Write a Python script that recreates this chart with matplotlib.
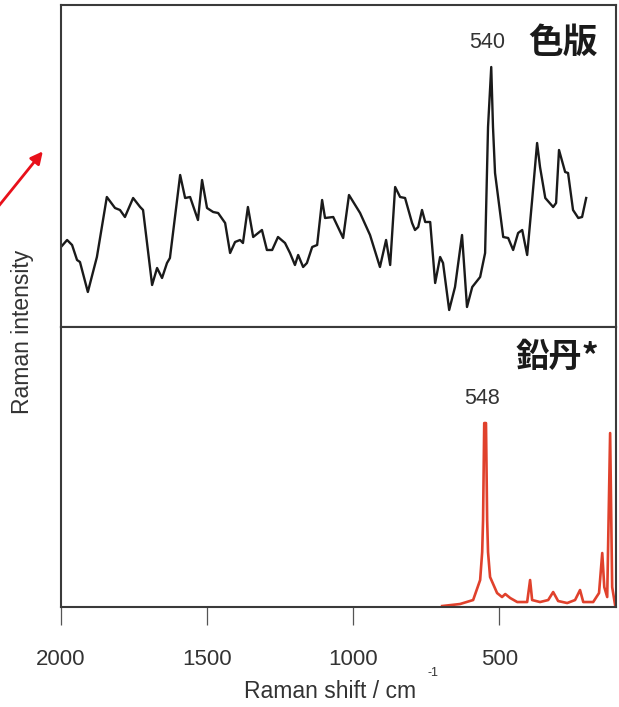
import numpy as np
import matplotlib
matplotlib.use("Agg")
import matplotlib.pyplot as plt

# ---------------------- data ----------------------

# sample spectrum (色版), Raman shift in cm-1 and intensity (arb. units)
sample_shift = [2000, 1979, 1962, 1945, 1935, 1908, 1877, 1843, 1815, 1798,
                1781, 1753, 1729, 1719, 1688, 1671, 1654, 1637, 1627, 1592,
                1575, 1558, 1531, 1517, 1500, 1479, 1462, 1438, 1421, 1404,
                1387, 1377, 1360, 1342, 1312, 1295, 1277, 1257, 1233, 1216,
                1199, 1188, 1171, 1158, 1140, 1123, 1106, 1096, 1068, 1034,
                1014, 976, 942, 908, 887, 873, 856, 839, 822, 798,
                788, 777, 764, 753, 736, 719, 702, 692, 671, 651,
                627, 610, 592, 565, 548, 538, 527, 521, 514, 486,
                469, 452, 435, 421, 404, 387, 370, 360, 342, 315,
                305, 295, 274, 264, 247, 229, 216, 202]
sample_int = [80, 87, 82, 67, 65, 35, 70, 130, 119, 117,
              110, 129, 120, 117, 42, 59, 49, 64, 69, 152,
              129, 130, 107, 147, 119, 115, 114, 104, 74, 85,
              87, 84, 120, 90, 97, 77, 77, 90, 84, 74,
              62, 72, 60, 64, 80, 82, 127, 109, 110, 89,
              132, 114, 92, 60, 87, 62, 140, 130, 129, 104,
              97, 100, 117, 105, 105, 44, 70, 64, 17, 40,
              92, 20, 40, 50, 74, 200, 260, 200, 154, 90,
              89, 77, 94, 97, 72, 127, 184, 160, 129, 120,
              124, 177, 155, 154, 117, 109, 110, 129]

# reference spectrum (鉛丹*)
ref_shift = [695, 634, 589, 565, 558, 555, 551, 545, 541, 538, 531, 507, 490,
             479, 462, 438, 404, 394, 387, 360, 332, 315, 298, 267, 240,
             223, 212, 178, 158, 147, 140, 130, 120, 113, 103]
ref_int = [1, 3, 7, 27, 55, 87, 184, 184, 87, 55, 30, 14, 10,
           13, 9, 5, 5, 27, 7, 5, 7, 15, 6, 4, 7,
           17, 5, 5, 14, 54, 20, 10, 174, 20, 2]

xticks = [2000, 1500, 1000, 500]

# ---------------------- figure ----------------------

text_col = "#333333"
spine_col = "#3a3a3a"
cjk = ["Noto Sans CJK JP", "DejaVu Sans"]
plt.rcParams["font.family"] = ["Liberation Sans", "DejaVu Sans"]

fig = plt.figure(figsize=(6.19, 7.07), dpi=100)
ax_top = fig.add_axes([0.0985, 0.5375, 0.8966, 0.4554])
ax_bot = fig.add_axes([0.0985, 0.1414, 0.8966, 0.3960], sharex=ax_top)

ax_top.plot(sample_shift, sample_int, color="#1a1a1a", lw=1.7,
            solid_joinstyle="round")
ax_bot.plot(ref_shift, ref_int, color="#e0412c", lw=1.9,
            solid_joinstyle="round")

ax_top.set_xlim(2000, 100)
ax_top.set_ylim(0, 322)
ax_bot.set_ylim(0, 280)

for ax in (ax_top, ax_bot):
    for sp in ax.spines.values():
        sp.set_color(spine_col)
        sp.set_linewidth(1.5)
    ax.set_yticks([])

ax_top.tick_params(axis="x", bottom=False, labelbottom=False)
ax_bot.set_xticks(xticks)
ax_bot.tick_params(axis="x", direction="out", length=13, width=0.9,
                   color="#555555", labelsize=16, labelcolor=text_col, pad=17)
ax_bot.set_xlabel("Raman shift / cm", fontsize=16.5, color=text_col)
ax_bot.xaxis.set_label_coords(0.485, -0.26)
# small raised "-1" after the unit
ax_bot.text(0.66, -0.235, "-1", transform=ax_bot.transAxes, fontsize=9,
            color=text_col, ha="left", va="center")

# peak labels and sample names
ax_top.text(540, 285, "540", fontsize=15.5, color=text_col, ha="center", va="center")
ax_top.text(0.905, 0.885, "色版", transform=ax_top.transAxes, family=cjk,
            fontsize=25, fontweight="bold", color="#1a1a1a",
            ha="center", va="center")
ax_bot.text(557, 209, "548", fontsize=15.5, color=text_col, ha="center",
            va="center")
ax_bot.text(0.894, 0.893, "鉛丹*", transform=ax_bot.transAxes, family=cjk,
            fontsize=24, fontweight="bold", color="#1a1a1a",
            ha="center", va="center")

fig.text(0.036, 0.53, "Raman intensity", rotation=90, fontsize=16.5,
         color=text_col, ha="center", va="center")

# red arrow coming in from the left edge
fig.add_artist(matplotlib.patches.FancyArrowPatch(
    (-0.01, 0.70), (0.072, 0.789), transform=fig.transFigure,
    arrowstyle="-|>", mutation_scale=18, color="#e8101a", lw=2))

plt.savefig("out.png", dpi=100)
